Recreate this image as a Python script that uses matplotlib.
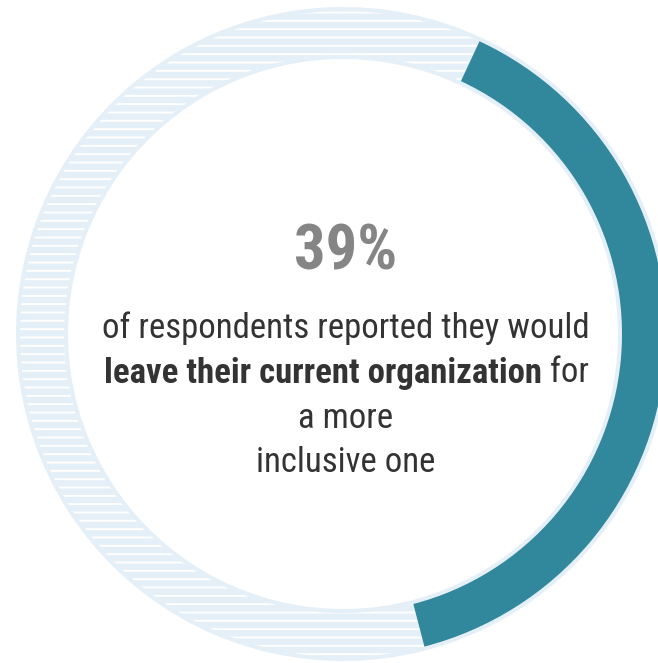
import matplotlib
matplotlib.use("Agg")
import matplotlib.pyplot as plt
from matplotlib import font_manager

# Survey figure
share = 39
rest = 100 - share
headline = f"{share}%"
line1 = "of respondents reported they would"
line2_bold = "leave their current organization"
line2_tail = " for"
line3 = "a more"
line4 = "inclusive one"

teal = '#31879c'
pale = '#e5eff8'
grey = '#858585'
ink = '#333333'

names = {f.name for f in font_manager.fontManager.ttflist}
if 'Roboto Condensed' in names:
    plt.rcParams['font.family'] = ['Roboto Condensed', 'DejaVu Sans']
    body_size, head_size = 25, 45
else:
    plt.rcParams['font.family'] = ['Liberation Sans', 'DejaVu Sans']
    body_size, head_size = 22, 42
plt.rcParams['hatch.linewidth'] = 1.4

fig = plt.figure(figsize=(6.58, 6.63), dpi=100)
ax = fig.add_axes([0, 0, 1, 1])

center = (343, 329)
R = 327
start = 65

# pale base ring
ax.pie([share, rest], radius=R, center=center, startangle=start, counterclock=False,
       colors=[pale, pale], wedgeprops=dict(width=52, linewidth=0), frame=True)
# white striping on the remaining share
wedges, _ = ax.pie([share, rest], radius=R - 4, center=center, startangle=start, counterclock=False,
                   colors=['none', 'none'], wedgeprops=dict(width=44, linewidth=0), frame=True)
wedges[0].set_visible(False)
wedges[1].set_hatch('--')
wedges[1].set_edgecolor('white')
wedges[1].set_linewidth(0)
# highlighted share
wedges, _ = ax.pie([share, rest], radius=R - 4, center=center, startangle=start, counterclock=False,
                   colors=[teal, 'none'], wedgeprops=dict(width=44, linewidth=0), frame=True)
wedges[1].set_visible(False)

ax.set_xlim(0, 658)
ax.set_ylim(0, 663)
ax.set_aspect('auto')
ax.axis('off')

cx = 346
ax.text(cx, 663 - 252, headline, ha='center', va='center', fontsize=head_size, fontweight='bold', color=grey)
ax.text(cx, 663 - 328, line1, ha='center', va='center', fontsize=body_size, color=ink)

# second line mixes bold and regular weight
renderer = fig.canvas.get_renderer()
tb = ax.text(0, 663 - 373, line2_bold, ha='left', va='center', fontsize=body_size, fontweight='bold', color=ink)
tt = ax.text(0, 663 - 373, line2_tail, ha='left', va='center', fontsize=body_size, color=ink)
wb = tb.get_window_extent(renderer).width
wt = tt.get_window_extent(renderer).width
x0 = cx - (wb + wt) / 2
tb.set_x(x0)
tt.set_x(x0 + wb)

ax.text(cx, 663 - 418, line3, ha='center', va='center', fontsize=body_size, color=ink)
ax.text(cx, 663 - 463, line4, ha='center', va='center', fontsize=body_size, color=ink)

fig.savefig('out.png', dpi=100)
